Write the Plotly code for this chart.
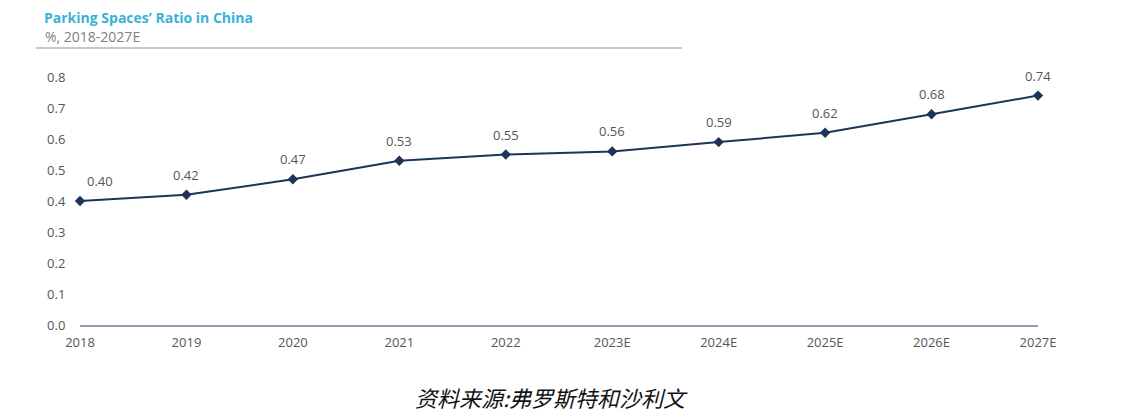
import plotly.graph_objects as go

years = ["2018", "2019", "2020", "2021", "2022", "2023E", "2024E", "2025E", "2026E", "2027E"]
ratio = [0.40, 0.42, 0.47, 0.53, 0.55, 0.56, 0.59, 0.62, 0.68, 0.74]
y_ticks = [0.0, 0.1, 0.2, 0.3, 0.4, 0.5, 0.6, 0.7, 0.8]

W, H = 1125, 418
OFF = 8  # page body margin
# plot area in reference pixel coordinates
X0, X1, Y0, Y1 = 80, 1038, 77, 325
ML, MT = X0 - OFF, Y0 - OFF
MR = W - (X1 - OFF)
MB = H - (Y1 - OFF)

fig = go.Figure()
fig.add_trace(go.Scatter(
    x=list(range(len(years))), y=ratio,
    mode="lines+markers",
    line=dict(color="#1c3557", width=2),
    marker=dict(symbol="diamond", size=8, color="#1c3557"),
    cliponaxis=False,
    showlegend=False,
))

for i, v in enumerate(ratio):
    fig.add_annotation(x=i, y=v, text=f"{v:.2f}", showarrow=False,
                       xanchor="center", yanchor="middle",
                       yshift=20, xshift=20 if i == 0 else 0,
                       font=dict(family="Open Sans", size=13, color="#555555"))

fig.update_xaxes(
    tickmode="array", tickvals=list(range(len(years))), ticktext=years,
    range=[0, len(years) - 1], showgrid=False, zeroline=False,
    showline=True, linecolor="#8e9cb0", linewidth=2,
    ticks="outside", ticklen=4, tickcolor="rgba(0,0,0,0)",
    tickfont=dict(family="Open Sans", size=13, color="#555555"),
)
fig.update_yaxes(
    tickmode="array", tickvals=y_ticks, ticktext=[f"{v:.1f}" for v in y_ticks],
    range=[0, 0.8], showgrid=False, zeroline=False, showline=False,
    ticks="outside", ticklen=11, tickcolor="rgba(0,0,0,0)",
    tickfont=dict(family="Open Sans", size=13, color="#555555"),
)

def px(x):
    return (x - X0) / (X1 - X0)

def py(y):
    return 1 - (y - Y0) / (Y1 - Y0)

fig.add_annotation(x=px(44), y=py(36), xref="paper", yref="paper",
                   text="%, 2018-2027E", showarrow=False,
                   xanchor="left", yanchor="middle", borderpad=0,
                   font=dict(family="Open Sans", size=14, color="#808080"))
fig.add_shape(type="line", xref="paper", yref="paper",
              x0=px(36), x1=px(682), y0=py(48), y1=py(48),
              line=dict(color="#c8c8c8", width=2))
fig.add_annotation(x=px(551), y=py(397), xref="paper", yref="paper",
                   text="<i>资料来源:弗罗斯特和沙利文</i>", showarrow=False,
                   xanchor="center", yanchor="middle",
                   font=dict(family="Noto Sans CJK SC", size=22, color="#111111"))

fig.update_layout(
    width=W, height=H,
    margin=dict(l=ML, r=MR, t=MT, b=MB),
    plot_bgcolor="white", paper_bgcolor="white",
    title=dict(text="<b>Parking Spaces’ Ratio in China</b>",
               xref="container", yref="container",
               x=(44 - OFF) / W, y=1 - (18 - OFF) / H,
               xanchor="left", yanchor="middle",
               font=dict(family="Open Sans", size=14, color="#3ab1d9")),
)

fig.write_html("out.html")
